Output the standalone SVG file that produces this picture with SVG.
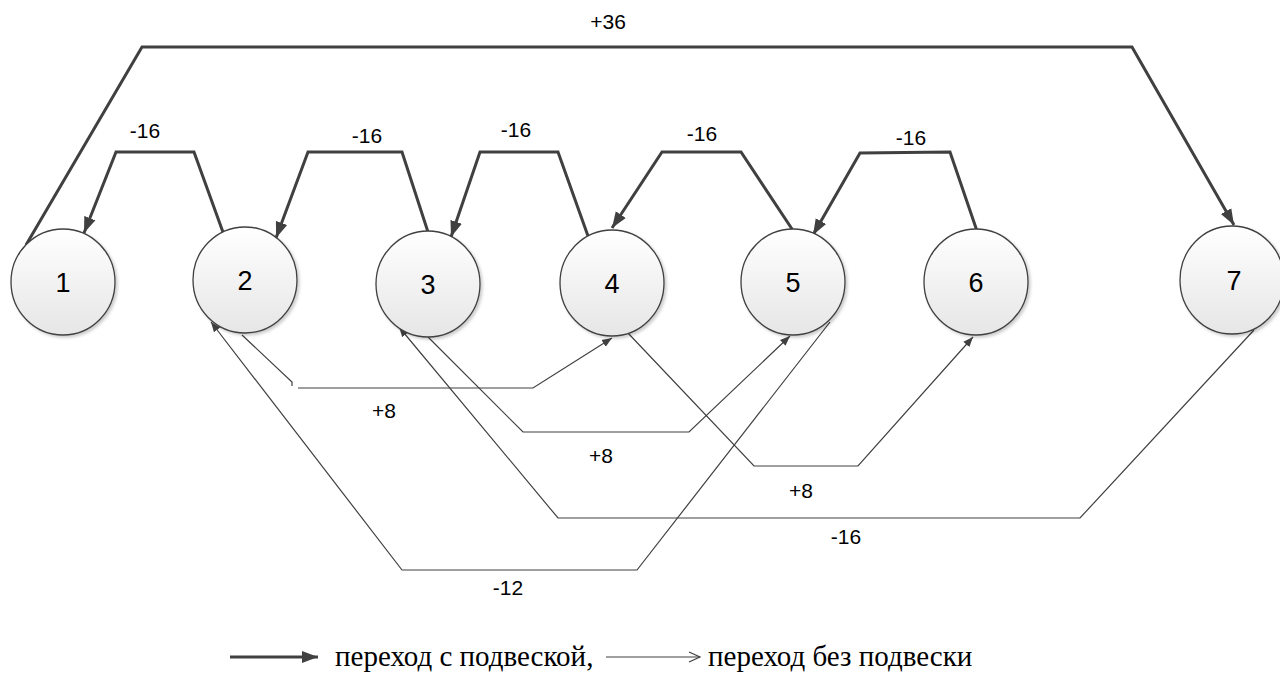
<svg xmlns="http://www.w3.org/2000/svg" width="1280" height="677" viewBox="0 0 1280 677">
<style>
.node{fill:url(#g);stroke:#404040;stroke-width:1.3;filter:url(#sh)}
.nl{font-family:"Liberation Sans",Arial,sans-serif;font-size:27px;fill:#000;text-anchor:middle}
.lb{font-family:"Liberation Sans",Arial,sans-serif;font-size:21px;fill:#000;text-anchor:middle}
.thick{fill:none;stroke:#404040;stroke-width:3;stroke-linejoin:miter;marker-end:url(#ah)}
.thin{fill:none;stroke:#404040;stroke-width:1.2}
.arr{marker-end:url(#as)}
.lg{font-family:"Liberation Serif","Times New Roman",serif;font-size:29px;fill:#000}
</style>
<defs>
<linearGradient id="g" x1="0" y1="0" x2="0" y2="1">
<stop offset="0" stop-color="#ffffff"/>
<stop offset="1" stop-color="#e6e6e6"/>
</linearGradient>
<filter id="sh" x="-20%" y="-20%" width="150%" height="150%">
<feDropShadow dx="2" dy="2" stdDeviation="1.5" flood-color="#000" flood-opacity="0.2"/>
</filter>
<marker id="ah" markerUnits="userSpaceOnUse" markerWidth="18" markerHeight="14" refX="16" refY="7" orient="auto">
<path d="M0,1 L16,7 L0,13 z" fill="#404040"/>
</marker>
<marker id="as" markerUnits="userSpaceOnUse" markerWidth="12" markerHeight="10" refX="10" refY="5" orient="auto">
<path d="M0,1 L10,5 L0,9 z" fill="#404040"/>
</marker>
<marker id="ao" markerUnits="userSpaceOnUse" markerWidth="14" markerHeight="12" refX="12" refY="6" orient="auto">
<path d="M1,1 L12,6 L1,11" fill="none" stroke="#404040" stroke-width="1.2"/>
</marker>
</defs>

<g id="connectors">
<polyline class="thick" points="26,245 142,47 1132,47 1234,225"/>
<polyline class="thick" points="224,235 194,152 116,152 84,233"/>
<polyline class="thick" points="428,232 402,152 308,152 276,238"/>
<polyline class="thick" points="588,236 558,152 480,152 451,237"/>
<polyline class="thick" points="794,232 741,152 662,152 612,228"/>
<polyline class="thick" points="977,231 950,152 860,153 813,235"/>
<polyline class="thin" points="242,335 292,382 292,386"/>
<polyline class="thin arr" points="298,388 533,388 612,338"/>
<polyline class="thin arr" points="428,337 523,432 689,432 790,336"/>
<polyline class="thin arr" points="627,332 754,466 858,466 973,337"/>
<polyline class="thin arr" points="830,322 637,570 402,570 211,322"/>
<polyline class="thin arr" points="1254,330 1080,518 558,518 399,327"/>
</g>

<g id="labels">
<text class="lb" x="608" y="29">+36</text>
<text class="lb" x="145" y="138">-16</text>
<text class="lb" x="367" y="143">-16</text>
<text class="lb" x="516" y="137">-16</text>
<text class="lb" x="702" y="141">-16</text>
<text class="lb" x="911" y="145">-16</text>
<text class="lb" x="384" y="418">+8</text>
<text class="lb" x="601" y="463">+8</text>
<text class="lb" x="801" y="498">+8</text>
<text class="lb" x="846" y="544">-16</text>
<text class="lb" x="508" y="595">-12</text>
</g>

<g id="node1"><ellipse class="node" cx="63" cy="282" rx="52" ry="53"/><text class="nl" x="63" y="292">1</text></g>
<g id="node2"><ellipse class="node" cx="245" cy="280" rx="52" ry="53"/><text class="nl" x="245" y="290">2</text></g>
<g id="node3"><ellipse class="node" cx="428" cy="284" rx="52" ry="53"/><text class="nl" x="428" y="294">3</text></g>
<g id="node4"><ellipse class="node" cx="612" cy="283" rx="52" ry="53"/><text class="nl" x="612" y="293">4</text></g>
<g id="node5"><ellipse class="node" cx="793" cy="282" rx="52" ry="53"/><text class="nl" x="793" y="292">5</text></g>
<g id="node6"><ellipse class="node" cx="976" cy="282" rx="52" ry="53"/><text class="nl" x="976" y="292">6</text></g>
<g id="node7"><ellipse class="node" cx="1232" cy="280" rx="52" ry="54"/><text class="nl" x="1234" y="290">7</text></g>

<g id="legend">
<line x1="230" y1="657" x2="318" y2="657" stroke="#404040" stroke-width="3" marker-end="url(#ah)"/>
<text class="lg" x="335" y="666">переход с подвеской,</text>
<line x1="606" y1="657" x2="700" y2="657" stroke="#404040" stroke-width="1.2" marker-end="url(#ao)"/>
<text class="lg" x="708" y="666">переход без подвески</text>
</g>
</svg>
